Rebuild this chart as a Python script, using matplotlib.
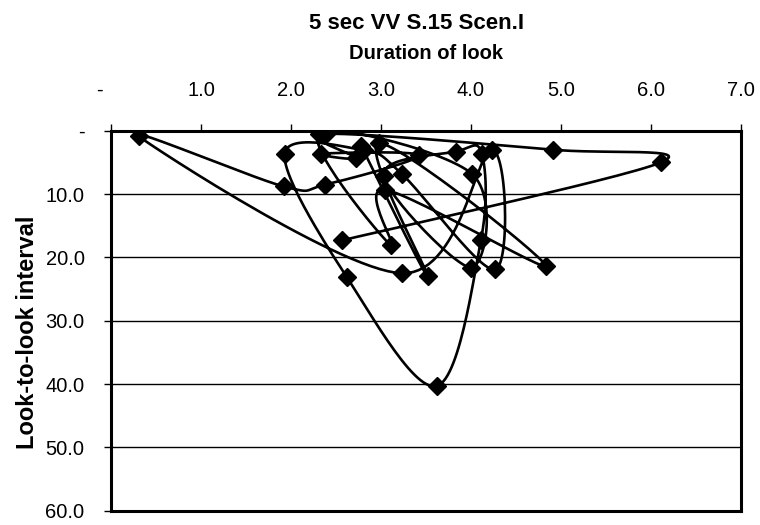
import matplotlib
matplotlib.use("Agg")
import matplotlib.pyplot as plt
import matplotlib.transforms as mtransforms
import numpy as np

plt.rcParams['font.family'] = ['Liberation Sans', 'DejaVu Sans']

# duration of look (s) and look-to-look interval (s), in the order they are joined
duration = [2.78, 3.52, 2.98, 4.83, 3.04, 3.11, 2.31, 4.01, 4.00, 3.03, 3.83,
            4.12, 4.11, 3.62, 2.62, 1.93, 2.81, 3.23, 4.27, 4.23, 3.23, 0.31,
            1.92, 2.38, 3.42, 2.33, 2.72, 2.39, 4.91, 6.11, 2.57]
interval = [2.4, 23.0, 2.0, 21.3, 9.3, 18.1, 0.5, 6.8, 21.6, 7.1, 3.3,
            3.6, 17.3, 40.3, 23.1, 3.6, 3.1, 6.8, 21.9, 3.0, 22.5, 0.9,
            8.8, 8.5, 3.9, 3.6, 4.3, 0.5, 3.0, 5.0, 17.3]

x_ticks = [0, 1, 2, 3, 4, 5, 6, 7]
x_labels = ['-', '1.0', '2.0', '3.0', '4.0', '5.0', '6.0', '7.0']
y_ticks = [0, 10, 20, 30, 40, 50, 60]
y_labels = ['-', '10.0', '20.0', '30.0', '40.0', '50.0', '60.0']


def smooth_path(ax, xs, ys, n=30):
    # Excel-style smoothed line: cubic Bezier with control points from neighbours,
    # worked out in display space so both axes scale the same way
    pts = ax.transData.transform(np.column_stack([xs, ys]))
    out = [pts[0]]
    for i in range(len(pts) - 1):
        p0 = pts[i - 1] if i > 0 else pts[i]
        p1 = pts[i]
        p2 = pts[i + 1]
        p3 = pts[i + 2] if i + 2 < len(pts) else pts[i + 1]
        c1 = p1 + (p2 - p0) / 6.0
        c2 = p2 - (p3 - p1) / 6.0
        t = np.linspace(0, 1, n)[1:, None]
        seg = ((1 - t) ** 3 * p1 + 3 * (1 - t) ** 2 * t * c1
               + 3 * (1 - t) * t ** 2 * c2 + t ** 3 * p2)
        out.extend(seg)
    out = np.array(out)
    return ax.transData.inverted().transform(out)


fig = plt.figure(figsize=(7.6, 5.25), dpi=100)
ax = fig.add_axes([0.146, 0.027, 0.829, 0.724])
ax.set_xlim(0, 7)
ax.set_ylim(60, 0)

for yv in y_ticks[1:-1]:
    ax.axhline(yv, color='black', lw=1.0, zorder=1)

curve = smooth_path(ax, duration, interval)
ax.plot(curve[:, 0], curve[:, 1], color='black', lw=1.9, zorder=2,
        solid_capstyle='round', solid_joinstyle='round')
ax.plot(duration, interval, linestyle='none', marker='D', markersize=9,
        color='black', zorder=3)

ax.xaxis.tick_top()
ax.xaxis.set_label_position('top')
ax.set_xticks(x_ticks)
ax.set_xticklabels(x_labels, fontsize=14.5)
ax.set_yticks(y_ticks)
ax.set_yticklabels(y_labels, fontsize=14.5)
ax.tick_params(axis='x', direction='out', length=5, pad=17, width=1)
ax.tick_params(axis='y', direction='out', length=5, pad=14, width=1)

# the "-" at zero sits a little left of its tick
first = ax.get_xticklabels()[0]
first.set_transform(first.get_transform()
                    + mtransforms.ScaledTranslation(-0.12, 0, fig.dpi_scale_trans))

for side in ax.spines.values():
    side.set_linewidth(2.2)
    side.set_color('black')

ax.set_xlabel('Duration of look', fontsize=14.5, fontweight='bold', labelpad=16)
ax.set_ylabel('Look-to-look interval', fontsize=17, fontweight='bold')
ax.yaxis.set_label_coords(-0.115, 0.47)
fig.text(0.548, 0.955, '5 sec VV S.15 Scen.I', ha='center', va='center',
         fontsize=16, fontweight='bold')

fig.savefig('out.png', dpi=100)
